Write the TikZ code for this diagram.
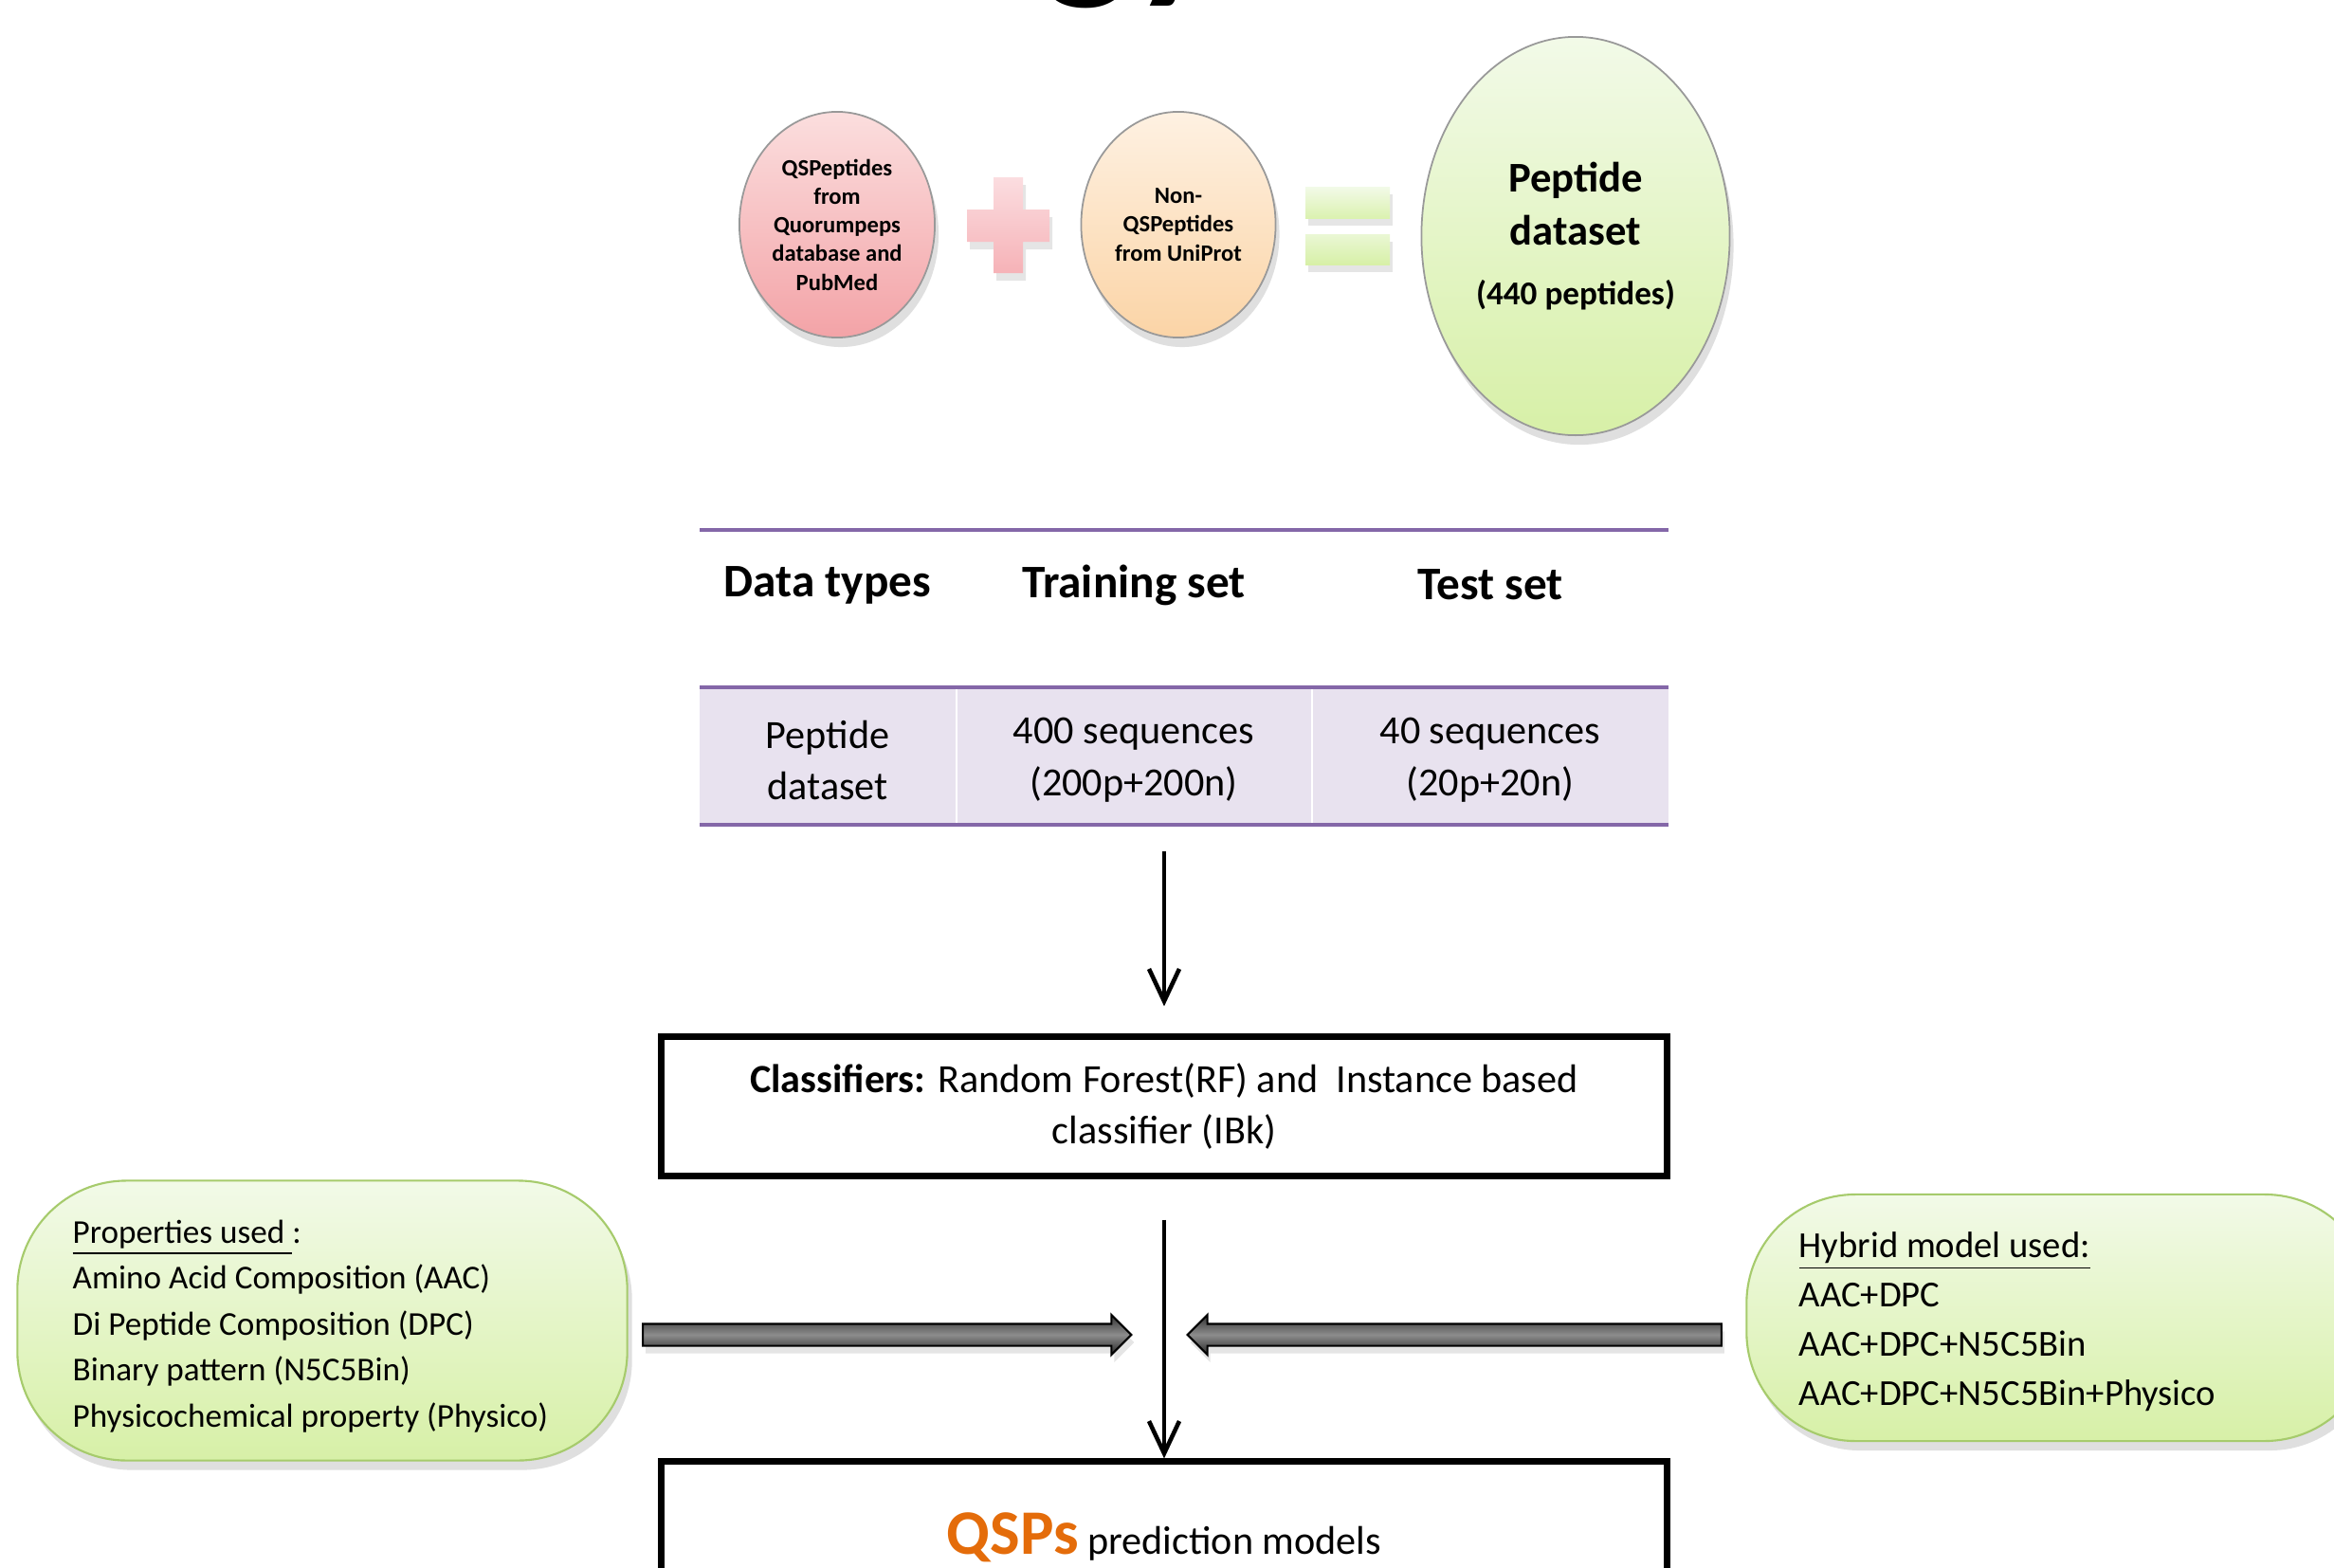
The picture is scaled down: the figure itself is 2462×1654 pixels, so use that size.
\documentclass[tikz,border=0pt]{standalone}
\usepackage{fontspec}
\setmainfont{Carlito}
\usetikzlibrary{shapes,positioning,arrows.meta,shadows,calc}
\usepackage{xcolor}

\definecolor{redTop}{HTML}{FBDEDE}
\definecolor{redBot}{HTML}{F3A3A7}
\definecolor{orangeTop}{HTML}{FEF1E2}
\definecolor{orangeBot}{HTML}{FBD4A6}
\definecolor{greenTop}{HTML}{F2FAE8}
\definecolor{greenBot}{HTML}{D7F0A7}
\definecolor{plusTop}{HTML}{FBDDE0}
\definecolor{plusBot}{HTML}{F6B2B7}
\definecolor{sideLine}{HTML}{A6CB6C}
\definecolor{tablePurple}{HTML}{8467A8}
\definecolor{tableFill}{HTML}{E8E2EF}
\definecolor{qspOrange}{HTML}{E46C0A}

\begin{document}
\begin{tikzpicture}[x=0.01cm,y=-0.01cm,
    bubble/.style={ellipse,draw=black!40,line width=0.5pt,inner sep=0pt,align=center,
      drop shadow={opacity=0.25,shadow xshift=0.4mm,shadow yshift=-1mm}},
    headcell/.style={font=\bfseries\fontsize{14}{17}\selectfont},
    bodycell/.style={align=center,font=\fontsize{12}{15.6}\selectfont},
    tablerule/.style={tablePurple,line width=1.2pt},
    framebox/.style={draw,line width=2pt,minimum width=10.6cm,align=center,
      font=\fontsize{12}{15.6}\selectfont},
    sidebox/.style={draw=sideLine,line width=0.6pt,rounded corners=1.15cm,
      top color=greenTop,bottom color=greenBot,
      drop shadow={opacity=0.25,shadow xshift=0.5mm,shadow yshift=-1mm}},
    flow/.style={line width=1.3pt,-{Straight Barb[length=3.4mm,width=3.2mm]}},
    fatarrow/.style={single arrow,draw=black,line width=0.6pt,inner xsep=0pt,
      inner ysep=0.105cm,single arrow head extend=0.095cm,
      top color=black!80,bottom color=black!85,middle color=black!45,
      drop shadow={opacity=0.2,shadow xshift=0.3mm,shadow yshift=-0.8mm}},
    signbar/.style={drop shadow={opacity=0.2,shadow xshift=0.3mm,shadow yshift=-0.8mm}}
  ]
    \useasboundingbox[fill=white] (0,0) rectangle (2462,1654);
    % Title cut off at the top
    \node[anchor=base west,inner sep=0pt,font=\bfseries\fontsize{56}{60}\selectfont] (title) at (1100,-25) {gy};
    % Draw the three data sets
    \node[bubble,minimum width=2.06cm,minimum height=2.38cm,top color=redTop,bottom color=redBot,
      font=\bfseries\fontsize{7}{8.6}\selectfont] (qsPep) at (883,237)
      {QSPeptides\\from\\Quorumpeps\\database and\\PubMed};
    \node[bubble,minimum width=2.05cm,minimum height=2.38cm,top color=orangeTop,bottom color=orangeBot,
      font=\bfseries\fontsize{7}{8.6}\selectfont] (nonPep) at (1243,237)
      {Non-\\QSPeptides\\from UniProt};
    \node[bubble,minimum width=3.25cm,minimum height=4.2cm,top color=greenTop,bottom color=greenBot,
      font=\bfseries\fontsize{12.7}{16}\selectfont] (pepSet) at (1662,249)
      {Peptide\\dataset\\[2pt]\fontsize{10}{12}\selectfont(440 peptides)};
    % Draw plus and equals signs
    \path[signbar,top color=plusTop,bottom color=plusBot] (1048,187) rectangle (1079,288) (1020,221) rectangle (1107,255);
    \path[signbar,top color=greenTop,bottom color=greenBot!90!white] (1377,197) rectangle (1466,230);
    \path[signbar,top color=greenTop!70!greenBot,bottom color=greenBot] (1377,247) rectangle (1466,279);
    % Draw the table
    \fill[tableFill] (738,725) rectangle (1760,870);
    \draw[white,line width=0.8pt] (1009,727) -- (1009,868);
    \draw[white,line width=0.8pt] (1384,727) -- (1384,868);
    \draw[tablerule] (738,559) -- (1760,559);
    \draw[tablerule] (738,725) -- (1760,725);
    \draw[tablerule] (738,870) -- (1760,870);
    \node[headcell] (hdType) at (873,617) {Data types};
    \node[headcell] (hdTrain) at (1196,617) {Training set};
    \node[headcell] (hdTest) at (1572,617) {Test set};
    \node[bodycell] (cellType) at (873,802) {Peptide\\dataset};
    \node[bodycell] (cellTrain) at (1196,802) {400 sequences\\(200p+200n)};
    \node[bodycell] (cellTest) at (1572,802) {40 sequences\\(20p+20n)};
    \coordinate (tabBot) at (1228,870);
    % Classifiers and models
    \node[framebox,minimum height=1.46cm] (classif) at (1228,1167)
      {\textbf{Classifiers:} Random Forest(RF) and\ \ Instance based\\classifier (IBk)};
    \node[framebox,minimum height=1.6cm] (qsps) at (1228,1622)
      {{\color{qspOrange}\bfseries\fontsize{19}{22}\selectfont QSPs} prediction models};
    \draw[flow,shorten <=0.28cm,shorten >=0.29cm] (tabBot) -- (classif.north);
    \draw[flow,shorten <=0.43cm] (classif.south) -- (qsps.north);
    % Properties and hybrid models
    \node[sidebox,minimum width=6.43cm,minimum height=2.95cm] (propsBox) at (340,1393) {};
    \node[anchor=west,align=left,inner sep=0pt,font=\fontsize{10}{13.8}\selectfont] (propsText) at (76,1399)
      {\underline{Properties used\ }:\\Amino Acid Composition (AAC)\\Di Peptide Composition (DPC)\\Binary pattern (N5C5Bin)\\Physicochemical property (Physico)};
    \node[sidebox,minimum width=6.61cm,minimum height=2.6cm] (hybridBox) at (2173,1390) {};
    \node[anchor=west,align=left,inner sep=0pt,font=\fontsize{11}{14.8}\selectfont] (hybridText) at (1897,1394)
      {\underline{Hybrid model used:}\\AAC+DPC\\AAC+DPC+N5C5Bin\\AAC+DPC+N5C5Bin+Physico};
    \node[fatarrow,minimum height=5.15cm] (propsArrow) at (930,1408) {};
    \node[fatarrow,minimum height=5.63cm,shape border rotate=180] (hybridArrow) at (1540,1408) {};
\end{tikzpicture}
\end{document}
